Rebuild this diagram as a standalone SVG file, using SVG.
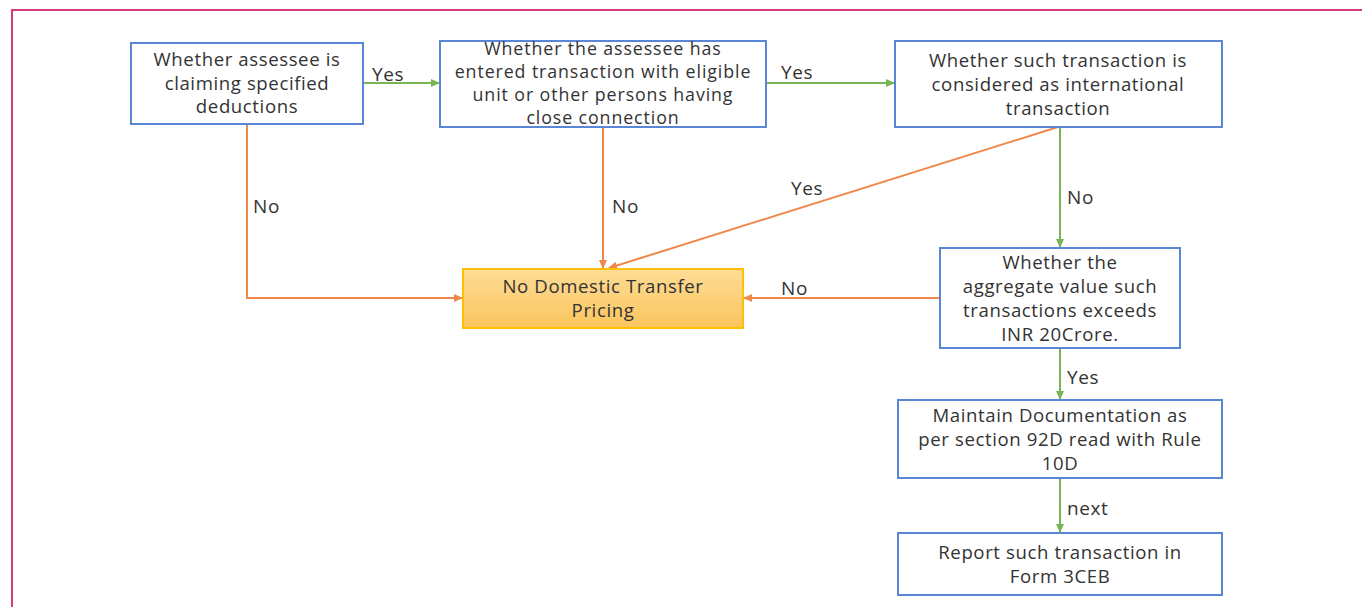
<svg xmlns="http://www.w3.org/2000/svg" width="1362" height="607" viewBox="0 0 1362 607">
<style>
text{font-family:"Open Sans","Noto Sans","Liberation Sans",sans-serif;font-size:18.6px;letter-spacing:0.6px;fill:#333;text-anchor:middle}
.lbl{text-anchor:start;font-size:19px}
.tight{font-size:17.8px;letter-spacing:0.9px}
.box{fill:#fff;stroke:#5a86d6;stroke-width:2}
.g{stroke:#78b552;stroke-width:2;fill:none}
.o{stroke:#f0884a;stroke-width:2;fill:none}
</style>
<defs>
<linearGradient id="yg" x1="0" y1="0" x2="0" y2="1"><stop offset="0" stop-color="#fddc95"/><stop offset="1" stop-color="#fbc55e"/></linearGradient>
<marker id="ag" markerWidth="10" markerHeight="10" refX="8" refY="5" orient="auto" markerUnits="userSpaceOnUse"><path d="M0,1 L9,5 L0,9 Z" fill="#78b552"/></marker>
<marker id="ao" markerWidth="10" markerHeight="10" refX="8" refY="5" orient="auto" markerUnits="userSpaceOnUse"><path d="M0,1 L9,5 L0,9 Z" fill="#f0884a"/></marker>
</defs>
<rect width="1362" height="607" fill="#fff"/>
<path d="M12,607 V10 H1362" fill="none" stroke="#d63a7a" stroke-width="2"/>
<g id="connectors">
<line class="g" x1="363" y1="83" x2="439" y2="83" marker-end="url(#ag)"/>
<line class="g" x1="766" y1="83" x2="894" y2="83" marker-end="url(#ag)"/>
<polyline class="o" points="247,124 247,298 462,298" marker-end="url(#ao)"/>
<line class="o" x1="603" y1="127" x2="603" y2="268" marker-end="url(#ao)"/>
<line class="o" x1="1058" y1="127" x2="609" y2="268" marker-end="url(#ao)"/>
<line class="g" x1="1060" y1="127" x2="1060" y2="247" marker-end="url(#ag)"/>
<line class="o" x1="940" y1="298" x2="744" y2="298" marker-end="url(#ao)"/>
<line class="g" x1="1060" y1="348" x2="1060" y2="399" marker-end="url(#ag)"/>
<line class="g" x1="1060" y1="478" x2="1060" y2="532" marker-end="url(#ag)"/>
<text class="lbl" x="372" y="81">Yes</text>
<text class="lbl" x="781" y="79">Yes</text>
<text class="lbl" x="253" y="213">No</text>
<text class="lbl" x="612" y="213">No</text>
<text class="lbl" x="791" y="195">Yes</text>
<text class="lbl" x="1067" y="204">No</text>
<text class="lbl" x="781" y="295">No</text>
<text class="lbl" x="1067" y="384">Yes</text>
<text class="lbl" x="1067" y="515">next</text>
</g>
<g id="n1">
<rect class="box" x="131" y="43" width="232" height="81"/>
<text x="247" y="66">Whether assessee is</text>
<text x="247" y="90">claiming specified</text>
<text x="247" y="113">deductions</text>
</g>
<g id="n2">
<rect class="box" x="440" y="41" width="326" height="86"/>
<text class="tight" x="603" y="55">Whether the assessee has</text>
<text class="tight" x="603" y="78">entered transaction with eligible</text>
<text class="tight" x="603" y="101">unit or other persons having</text>
<text class="tight" x="603" y="124">close connection</text>
</g>
<g id="n3">
<rect class="box" x="895" y="41" width="327" height="86"/>
<text x="1058" y="67">Whether such transaction is</text>
<text x="1058" y="91">considered as international</text>
<text x="1058" y="115">transaction</text>
</g>
<g id="n4">
<rect x="463" y="269" width="280" height="59" fill="url(#yg)" stroke="#ffc000" stroke-width="2"/>
<text x="603" y="293">No Domestic Transfer</text>
<text x="603" y="317">Pricing</text>
</g>
<g id="n5">
<rect class="box" x="940" y="248" width="240" height="100"/>
<text x="1060" y="269">Whether the</text>
<text x="1060" y="293">aggregate value such</text>
<text x="1060" y="317">transactions exceeds</text>
<text x="1060" y="341">INR 20Crore.</text>
</g>
<g id="n6">
<rect class="box" x="898" y="400" width="324" height="78"/>
<text x="1060" y="422">Maintain Documentation as</text>
<text x="1060" y="446">per section 92D read with Rule</text>
<text x="1060" y="470">10D</text>
</g>
<g id="n7">
<rect class="box" x="898" y="533" width="324" height="62"/>
<text x="1060" y="559">Report such transaction in</text>
<text x="1060" y="583">Form 3CEB</text>
</g>
</svg>
